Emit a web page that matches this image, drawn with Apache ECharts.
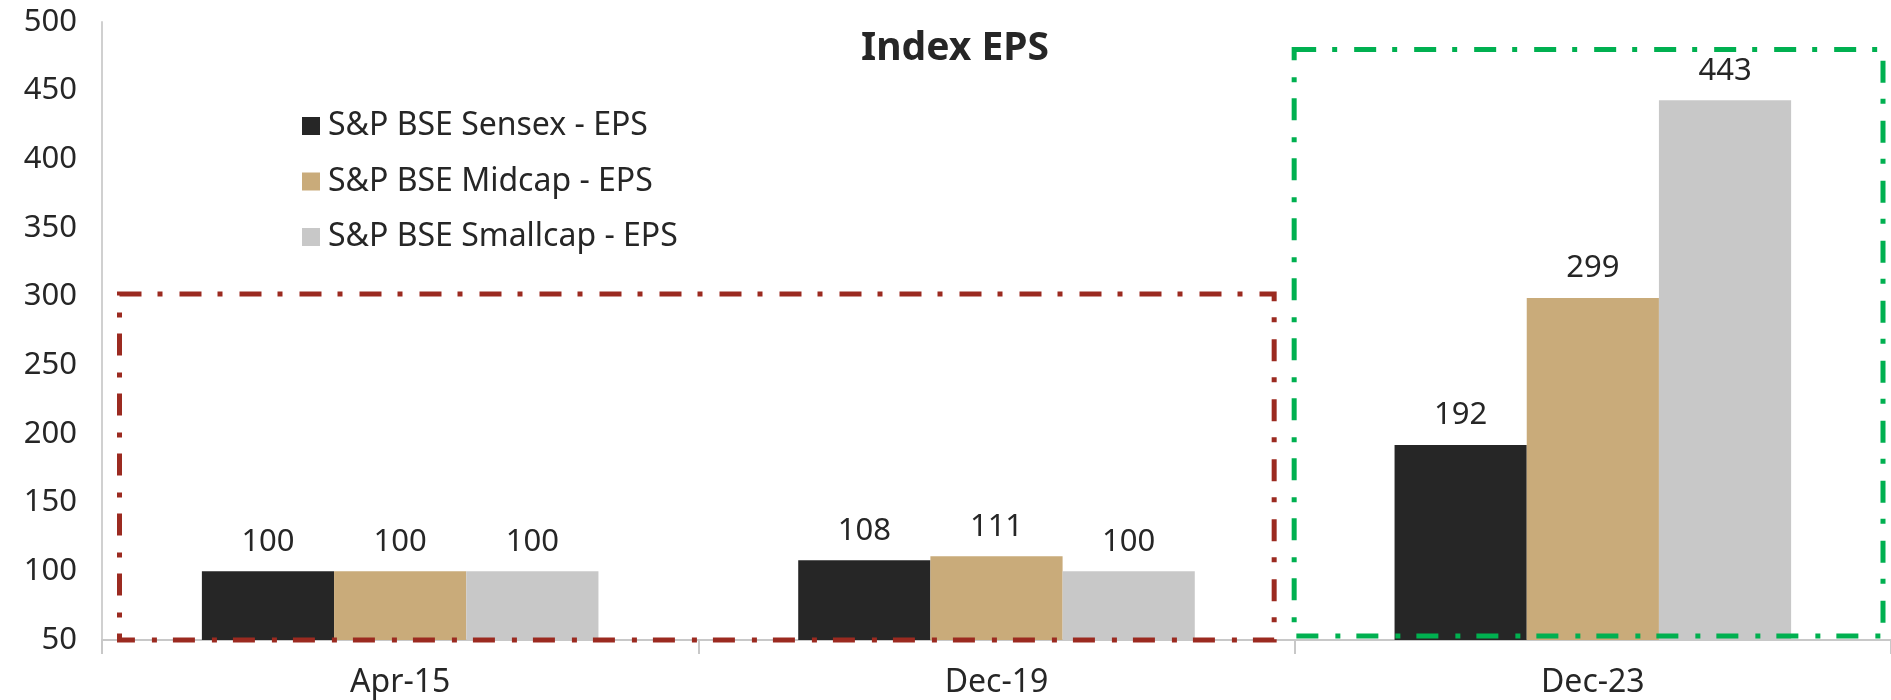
<!DOCTYPE html>
<html>
<head>
<meta charset="utf-8">
<title>Index EPS</title>
<script src="https://cdn.jsdelivr.net/npm/echarts@6/dist/echarts.min.js"></script>
<style>
  html, body { margin: 0; padding: 0; background: #fff; }
  #main { width: 1891px; height: 700px; }
</style>
</head>
<body>
<div id="main"></div>
<script>
// data
var categories = ['Apr-15', 'Dec-19', 'Dec-23'];
var sensex = [100, 108, 192];
var midcap = [100, 111, 299];
var smallcap = [100, 100, 443];
var seriesNames = ['S&P BSE Sensex - EPS', 'S&P BSE Midcap - EPS', 'S&P BSE Smallcap - EPS'];

var textColor = '#262626';
var font = 'Noto Sans';

var myChart = echarts.init(document.getElementById('main'));

function barSeries(name, data, color) {
    return {
        name: name,
        type: 'bar',
        data: data,
        barGap: '0%',
        barCategoryGap: '33.5%',
        itemStyle: { color: color },
        label: {
            show: true,
            position: 'top',
            distance: 14,
            color: textColor,
            fontFamily: font,
            fontSize: 31
        }
    };
}

var option = {
    backgroundColor: '#fff',
    animation: false,
    title: {
        text: 'Index EPS',
        left: 950,
        textAlign: 'center',
        top: 24,
        textStyle: { color: textColor, fontFamily: font, fontWeight: 'bold', fontSize: 39 }
    },
    legend: {
        orient: 'vertical',
        left: 297,
        top: 105,
        itemWidth: 18,
        itemHeight: 18,
        itemGap: 23.5,
        icon: 'rect',
        data: seriesNames,
        textStyle: { color: textColor, fontFamily: font, fontSize: 32, padding: [0, 0, 0, 3] }
    },
    grid: { left: 102, right: 0, top: 22, bottom: 60 },
    xAxis: {
        type: 'category',
        data: categories,
        axisLine: { lineStyle: { color: '#C8C8C8', width: 2 } },
        axisTick: { show: true, length: 14, lineStyle: { color: '#C8C8C8', width: 2 } },
        axisLabel: { color: textColor, fontFamily: font, fontSize: 32, margin: 27 }
    },
    yAxis: {
        type: 'value',
        min: 50,
        max: 500,
        interval: 50,
        splitLine: { show: false },
        axisLine: { show: true, lineStyle: { color: '#D0D0D0', width: 2 } },
        axisTick: { show: false },
        axisLabel: { color: textColor, fontFamily: font, fontSize: 31, margin: 25 }
    },
    series: [
        barSeries(seriesNames[0], sensex, '#262626'),
        barSeries(seriesNames[1], midcap, '#C9AB7A'),
        barSeries(seriesNames[2], smallcap, '#C8C8C8')
    ]
};
myChart.setOption(option);

// dash-dot highlight boxes, placed from the axis scales
var c0 = myChart.convertToPixel({ xAxisIndex: 0 }, categories[0]);
var c1 = myChart.convertToPixel({ xAxisIndex: 0 }, categories[1]);
var c2 = myChart.convertToPixel({ xAxisIndex: 0 }, categories[2]);
var band = c1 - c0;
var yBase = myChart.convertToPixel({ yAxisIndex: 0 }, 50);
var yRed = myChart.convertToPixel({ yAxisIndex: 0 }, 302);
var yGreen = myChart.convertToPixel({ yAxisIndex: 0 }, 480);
var dash = [22, 16, 5, 17];

function box(x1, y1, x2, y2, color) {
    return {
        type: 'rect',
        shape: { x: x1, y: y1, width: x2 - x1, height: y2 - y1 },
        style: { fill: null, stroke: color, lineWidth: 5, lineDash: dash },
        z: 100
    };
}

myChart.setOption({
    graphic: [
        box(c0 - band / 2 + 17.5, yRed, c1 + band / 2 - 20.5, yBase, '#9B2A20'),
        box(c2 - band / 2 - 0.5, yGreen, c2 + band / 2 - 8, yBase - 4, '#00B050')
    ]
});
</script>
</body>
</html>
